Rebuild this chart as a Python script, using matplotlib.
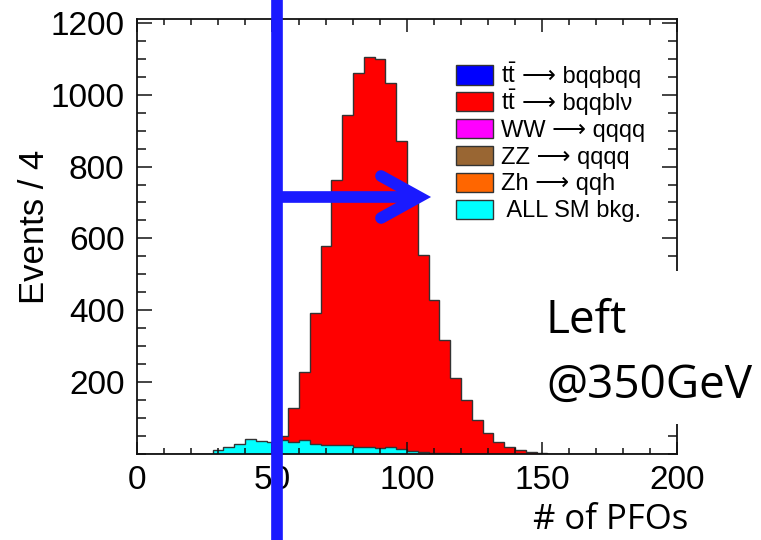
import numpy as np
import matplotlib
matplotlib.use("Agg")
import matplotlib.pyplot as plt
from matplotlib.patches import Rectangle
from matplotlib.lines import Line2D
from matplotlib.ticker import MultipleLocator

# ---------------- data ----------------
bin_width = 4
x_min, x_max = 0, 200

# tt -> bqqblv (red), 50 bins of width 4 from 0 to 200
red_counts = [0, 0, 0, 0, 0, 0, 0, 0, 0, 0,
              2, 6, 18, 50, 128, 227, 391, 579, 762, 943,
              1061, 1106, 1099, 1032, 871, 711, 554, 428, 317, 210,
              148, 94, 58, 32, 18, 10, 5, 2, 0, 0,
              0, 0, 0, 0, 0, 0, 0, 0, 0, 0]

# ALL SM bkg. (cyan)
cyan_counts = [0, 0, 0, 0, 0, 0, 0, 10, 18, 27,
               40, 34, 33, 37, 32, 37, 26, 25, 25, 25,
               17, 19, 16, 18, 13, 8, 5, 2, 1, 0,
               0, 0, 0, 0, 0, 0, 0, 0, 0, 0,
               0, 0, 0, 0, 0, 0, 0, 0, 0, 0]

# legend: (math prefix, plain text) for each entry
legend_prefix = [r"$\mathrm{t\bar{t}}$", r"$\mathrm{t\bar{t}}$", "", "", "", ""]
legend_text = ["⟶ bqqbqq", "⟶ bqqblν", "WW ⟶ qqqq", "ZZ ⟶ qqqq",
               "Zh ⟶ qqh", " ALL SM bkg."]
legend_colors = ["#0000FF", "#FF0000", "#FF00FF", "#996633", "#FF6600", "#00FFFF"]

x_ticks = [0, 50, 100, 150, 200]
x_tick_labels = ["0", "50", "100", "150", "200"]
y_ticks = [200, 400, 600, 800, 1000, 1200]
y_tick_labels = ["200", "400", "600", "800", "1000", "1200"]

y_label = "Events / 4"
x_label = "# of PFOs"
note_lines = ["Left", "@350GeV"]

# ---------------- style ----------------
plt.rcParams["font.family"] = ["Liberation Sans", "DejaVu Sans"]
plt.rcParams["mathtext.fontset"] = "custom"
plt.rcParams["mathtext.rm"] = "Liberation Sans"
plt.rcParams["mathtext.it"] = "Liberation Sans:italic"

W, H = 761, 540
fig = plt.figure(figsize=(W / 100, H / 100), dpi=100)


def fx(px):
    return px / W


def fy(py):
    return 1 - py / H


ax_left, ax_right, ax_top, ax_bottom = 137, 677, 18.5, 453.5
ax = fig.add_axes([fx(ax_left), fy(ax_bottom), (ax_right - ax_left) / W,
                   (ax_bottom - ax_top) / H])

edges = np.arange(x_min, x_max + bin_width, bin_width)
ax.stairs(red_counts, edges, fill=True, facecolor="#FF0000",
          edgecolor="#333333", linewidth=1.0, baseline=0)
ax.stairs(cyan_counts, edges, fill=True, facecolor="#00FFFF",
          edgecolor="#333333", linewidth=1.0, baseline=0)

ax.set_xlim(x_min, x_max)
ax.set_ylim(0, 1213)

ax.set_xticks(x_ticks)
ax.set_xticklabels(x_tick_labels)
ax.set_yticks(y_ticks)
ax.set_yticklabels(y_tick_labels)
ax.xaxis.set_minor_locator(MultipleLocator(10))
ax.yaxis.set_minor_locator(MultipleLocator(50))

ax.tick_params(axis="both", which="both", direction="in",
               top=True, right=True, width=1.1, color="#111111")
ax.tick_params(axis="x", which="major", length=9, labelsize=24, pad=8)
ax.tick_params(axis="x", which="minor", length=4.5)
ax.tick_params(axis="y", which="major", length=11, labelsize=24, pad=9)
ax.tick_params(axis="y", which="minor", length=6.5)
for sp in ax.spines.values():
    sp.set_linewidth(1.3)
    sp.set_color("#111111")

ax.set_ylabel(y_label, fontsize=25, va="center")
ax.yaxis.set_label_coords((35 - ax_left) / (ax_right - ax_left),
                          (ax_bottom - 227) / (ax_bottom - ax_top))
ax.set_xlabel(x_label, fontsize=25, family=["Open Sans", "DejaVu Sans"],
              va="top", ha="center")
ax.xaxis.set_label_coords((611 - ax_left) / (ax_right - ax_left),
                          (ax_bottom - 503) / (ax_bottom - ax_top))

# legend (drawn as boxes + texts, no frame)
row0, row_step = 75, 26.85
for i, (pre, lab, col) in enumerate(zip(legend_prefix, legend_text,
                                        legend_colors)):
    yc = row0 + i * row_step
    fig.add_artist(Rectangle((fx(456), fy(yc + 9.5)), 37 / W, 19 / H,
                             facecolor=col, edgecolor="#333333", lw=1.0,
                             transform=fig.transFigure, zorder=3))
    x_text = 501
    if pre:
        fig.text(fx(x_text), fy(yc + 8), pre, fontsize=17, va="baseline",
                 ha="left", zorder=3)
        x_text = 522
    fig.text(fx(x_text), fy(yc + 8), lab, fontsize=17, va="baseline",
             ha="left", zorder=3)

# white box with note text
fig.add_artist(Rectangle((fx(538), fy(424)), (W - 538) / W, (424 - 271) / H,
                         facecolor="white", edgecolor="none",
                         transform=fig.transFigure, zorder=4))
fig.text(fx(546), fy(333), note_lines[0], fontsize=33,
         family=["Open Sans", "DejaVu Sans"], va="baseline", ha="left", zorder=5)
fig.text(fx(546), fy(398), note_lines[1], fontsize=33,
         family=["Open Sans", "DejaVu Sans"], va="baseline", ha="left", zorder=5)

# blue annotation: vertical cut line and arrow
blue = "#1A1AFF"
lw = 8.4
fig.add_artist(Line2D([fx(277), fx(277)], [0, 1], lw=lw, color=blue,
                      transform=fig.transFigure, zorder=6,
                      solid_capstyle="butt"))
fig.add_artist(Line2D([fx(277), fx(417)], [fy(197), fy(197)], lw=lw,
                      color=blue, transform=fig.transFigure, zorder=6,
                      solid_capstyle="butt"))
fig.add_artist(Line2D([fx(381), fx(419), fx(381)],
                      [fy(176), fy(197), fy(218)], lw=lw, color=blue,
                      transform=fig.transFigure, zorder=6,
                      solid_capstyle="round", solid_joinstyle="miter"))

fig.savefig("out.png", dpi=100)
